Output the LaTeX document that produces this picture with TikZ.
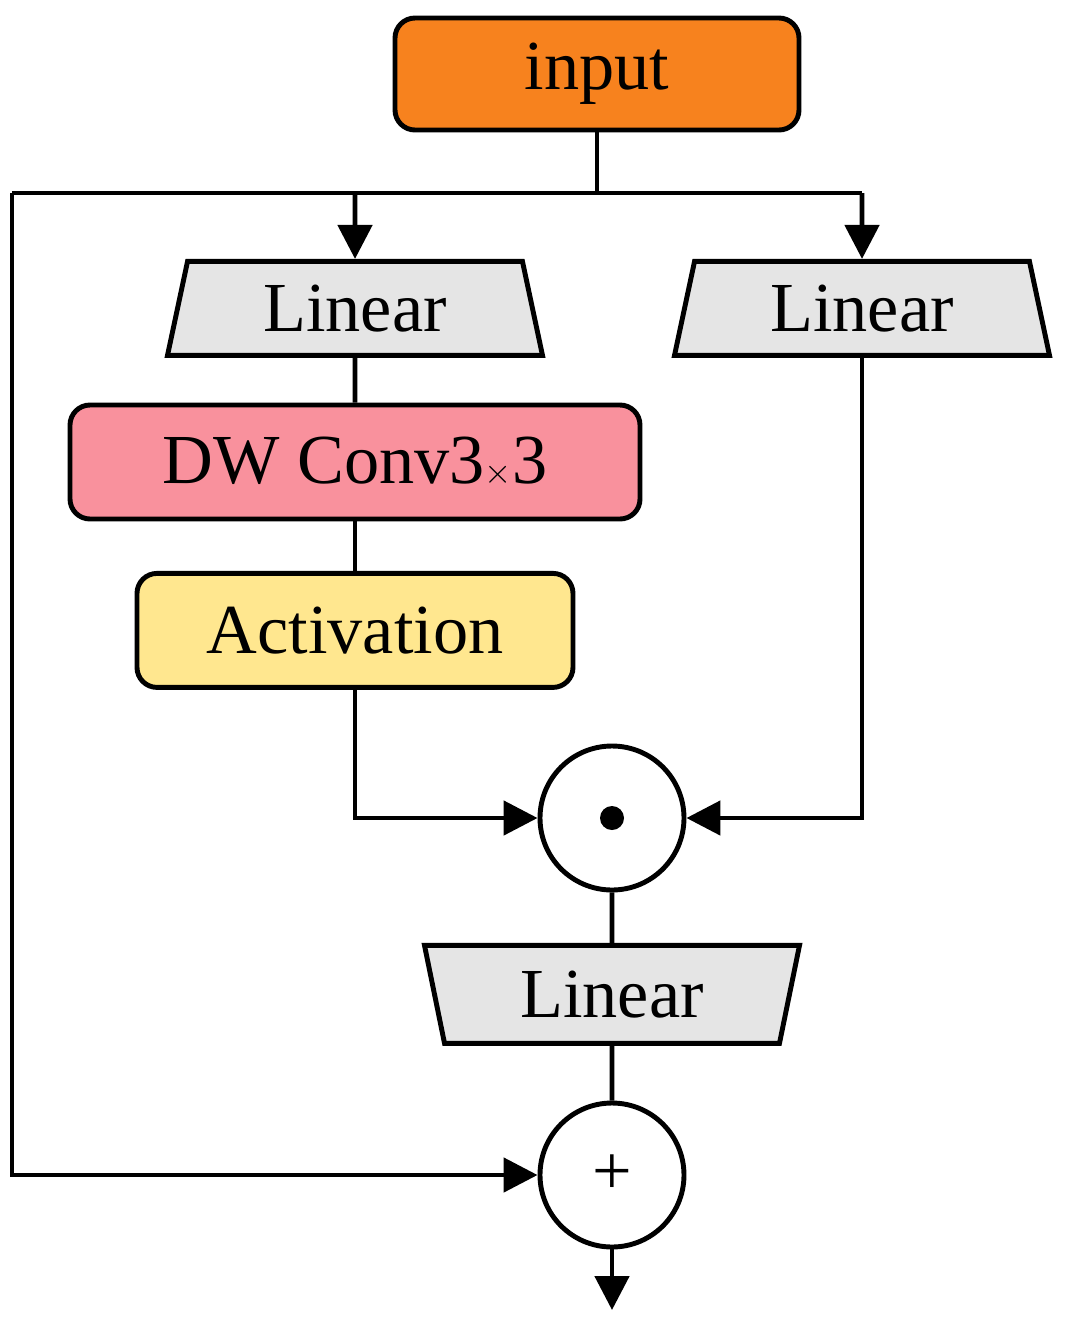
\documentclass[tikz,border=0pt]{standalone}
\usepackage{fontspec}
\setmainfont{Liberation Serif}
\usetikzlibrary{shapes.geometric,arrows.meta}
\begin{document}
\begin{tikzpicture}[
  line width=3.5pt,
  every node/.style={font=\fontsize{50}{55}\selectfont},
  box/.style={draw,rounded corners=0.5cm,minimum height=2.85cm,inner sep=0},
  trap/.style={draw,trapezium,trapezium left angle=67,trapezium right angle=67,trapezium stretches body,minimum width=9.375cm,minimum height=2.35cm,fill=gray!20,inner sep=0},
  op/.style={draw,circle,minimum size=3.6cm,inner sep=0,fill=white},
  arr/.style={-{Triangle[length=0.85cm,width=0.85cm]}}
]
\useasboundingbox (0,0) rectangle (26.6,-33.325);
\definecolor{org}{HTML}{F7821E}
\definecolor{pnk}{HTML}{F9919D}
\definecolor{yel}{HTML}{FFE78F}
\node[box,fill=org,minimum width=10.1cm,minimum height=2.8cm] (in) at (14.925,-1.85) {input};
\node[trap] (l1) at (8.875,-7.71) {Linear};
\node[trap] (l2) at (21.55,-7.71) {Linear};
\node[box,fill=pnk,minimum width=14.25cm] (dw) at (8.875,-11.55) {DW Conv3$\times$3};
\node[box,fill=yel,minimum width=10.9cm] (act) at (8.875,-15.76) {Activation};
\node[op] (m) at (15.3,-20.45) {};
\fill (m.center) circle (0.3);
\node[trap,shape border rotate=180,minimum height=2.45cm] (l3) at (15.3,-24.86) {Linear};
\node[op] (p) at (15.3,-29.375) {+};
\coordinate (j) at (14.925,-4.825);
\coordinate (jl) at (0.3,-4.825);
\coordinate (out) at (15.3,-32.75);
\draw (in.south) -- (j);
\draw (jl) -- (21.55,-4.825);
\draw[arr] (8.875,-4.825) -- (l1.north);
\draw[arr] (21.55,-4.825) -- (l2.north);
\draw (l1.south) -- (dw.north);
\draw (dw.south) -- (act.north);
\draw[arr] (act.south) |- (m.west);
\draw[arr] (l2.south) |- (m.east);
\draw (m.south) -- (l3.north);
\draw (l3.south) -- (p.north);
\draw[arr] (jl) |- (p.west);
\draw[arr] (p.south) -- (out);
\end{tikzpicture}
\end{document}
